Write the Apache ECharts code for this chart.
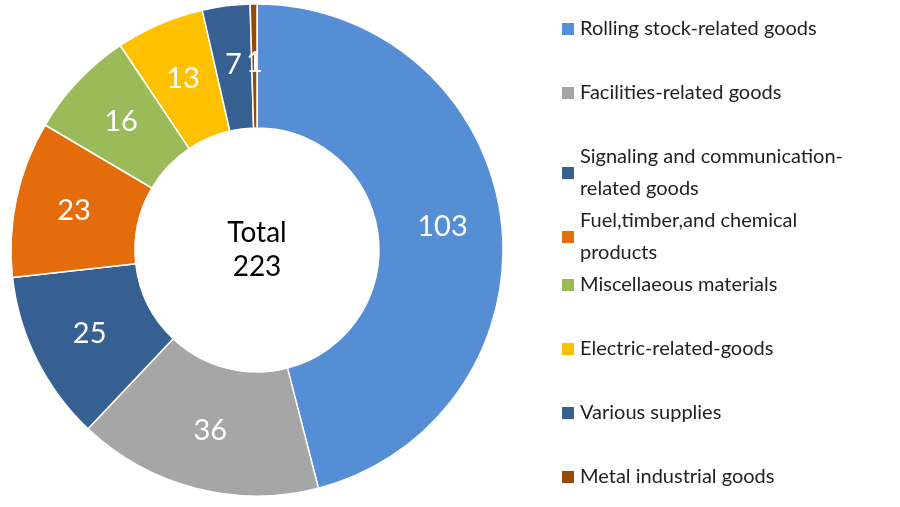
<!DOCTYPE html>
<html><head><meta charset="utf-8">
<script src="https://cdn.jsdelivr.net/npm/echarts@6/dist/echarts.min.js"></script>
<style>html,body{margin:0;padding:0;background:#fff}#c{width:900px;height:507px}</style>
</head><body><div id="c"></div>
<script>
const categories = ["Rolling stock-related goods","Facilities-related goods","Signaling and communication-\nrelated goods","Fuel,timber,and chemical\nproducts","Miscellaeous materials","Electric-related-goods","Various supplies","Metal industrial goods"];
const values = [103,36,25,23,16,13,7,1];
const colors = ["#558ED5","#A6A6A6","#376092","#E46C0A","#9BBB59","#FFC000","#376092","#984807"];
const totalLabel = "Total\n223";
const font = "Lato, 'Open Sans', sans-serif";
const chart = echarts.init(document.getElementById('c'));
function lg(items, top, gap){
  return {orient:'vertical', left:555, top:top, itemGap:gap, itemWidth:14, itemHeight:14, icon:'rect',
    data:items, textStyle:{fontSize:20, lineHeight:32, color:'#222', fontFamily:font}};
}
chart.setOption({
  animation:false,
  legend:[lg(categories.slice(0,2),8,32), lg(categories.slice(2,4),136,0), lg(categories.slice(4),264,32)],
  graphic:[{type:'text', left:'center', top:'middle', x:0, style:{}}].slice(0,0),
  series:[{
    type:'pie', center:[257,250], radius:[122,246], startAngle:90, clockwise:true,
    avoidLabelOverlap:false,
    label:{show:true, position:'inside', color:'#fff', fontSize:29, fontFamily:font, formatter:'{c}'},
    labelLine:{show:false},
    itemStyle:{borderColor:'#fff', borderWidth:1.5},
    data: categories.map((n,i)=>({name:n, value:values[i], itemStyle:{color:colors[i]}}))
  },{
    type:'pie', center:[257,250], radius:[0,0], silent:true,
    label:{show:true, position:'center', formatter:totalLabel, color:'#000', fontSize:28, lineHeight:34, fontFamily:font},
    data:[{name:'', value:1}], legendHoverLink:false
  }]
});
</script></body></html>
